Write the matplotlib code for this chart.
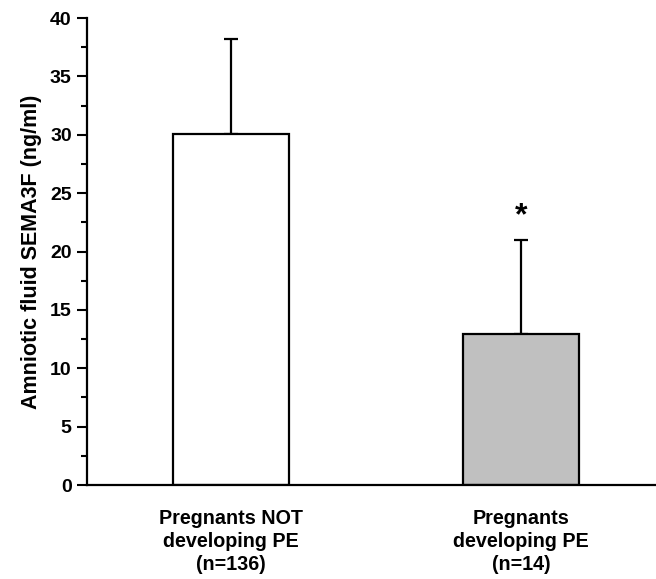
import matplotlib.pyplot as plt
from matplotlib.ticker import MultipleLocator

# values
groups = ["Pregnants NOT\ndeveloping PE\n(n=136)", "Pregnants\ndeveloping PE\n(n=14)"]
means = [30.1, 12.9]
sd_upper = [8.1, 8.1]
bar_colors = ["white", "#c0c0c0"]
star_y = 23.0

plt.rcParams["font.family"] = ["Liberation Sans", "DejaVu Sans"]
plt.rcParams["font.weight"] = "bold"

fig = plt.figure(figsize=(6.56, 5.79), dpi=100)
ax = fig.add_axes([0.1326, 0.1623, 0.8674, 0.8066])

x = [1, 2]
ax.bar(x, means, width=0.403, color=bar_colors, edgecolor="black", linewidth=1.6, zorder=2)
ax.errorbar(x, means, yerr=[[0, 0], sd_upper], fmt="none", ecolor="black",
            elinewidth=1.6, capsize=5, capthick=1.6, zorder=1)
ax.text(2, star_y, "*", ha="center", va="center", fontsize=23, fontweight="bold")

ax.set_xlim(0.503, 2.466)
ax.set_ylim(0, 40)
ax.yaxis.set_major_locator(MultipleLocator(5))
ax.yaxis.set_minor_locator(MultipleLocator(2.5))
ax.set_xticks(x)
ax.set_xticklabels(groups, fontsize=14.2, fontweight="bold", linespacing=1.27)
ax.tick_params(axis="x", length=0, pad=17)
ax.tick_params(axis="y", which="major", length=7, width=1.5, labelsize=14, pad=4)
ax.tick_params(axis="y", which="minor", length=4, width=1.5)
ax.set_ylabel("Amniotic fluid SEMA3F (ng/ml)", fontsize=15.5, fontweight="bold", labelpad=6)

for s in ["top", "right"]:
    ax.spines[s].set_visible(False)
for s in ["left", "bottom"]:
    ax.spines[s].set_linewidth(1.6)

fig.savefig("out.png", dpi=100)
